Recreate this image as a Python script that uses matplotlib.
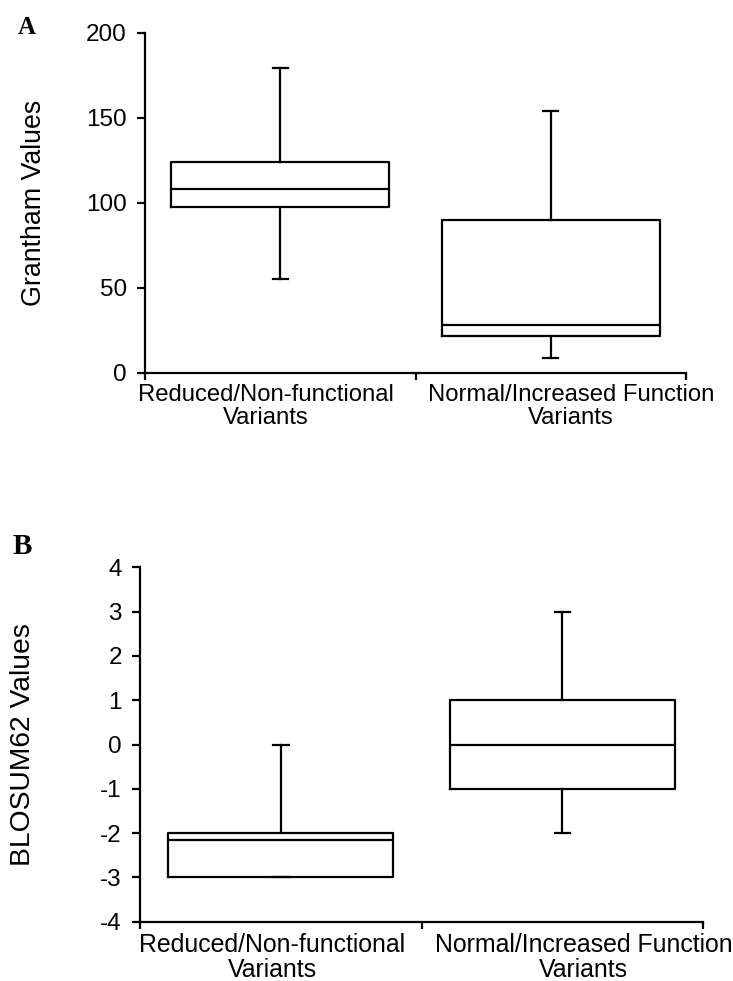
import matplotlib
matplotlib.use("Agg")
import matplotlib.pyplot as plt

plt.rcParams['font.family'] = ['Liberation Sans', 'DejaVu Sans']

groups = ["Reduced/Non-functional\nVariants", "Normal/Increased Function\nVariants"]

# box summaries: whisker low, q1, median, q3, whisker high
grantham_lo = [55.5, 9.0]
grantham_q1 = [97.5, 21.5]
grantham_med = [108.5, 28.0]
grantham_q3 = [124.0, 90.0]
grantham_hi = [179.5, 154.0]

blosum_lo = [-3.0, -2.0]
blosum_q1 = [-3.0, -1.0]
blosum_med = [-2.15, 0.0]
blosum_q3 = [-2.0, 1.0]
blosum_hi = [0.0, 3.0]

grantham_ticks = [0, 50, 100, 150, 200]
blosum_ticks = [-4, -3, -2, -1, 0, 1, 2, 3, 4]


def make_stats(lo, q1, med, q3, hi):
    stats = []
    for i in range(len(lo)):
        stats.append(dict(whislo=lo[i], q1=q1[i], med=med[i], q3=q3[i],
                          whishi=hi[i], fliers=[]))
    return stats


def draw_panel(ax, stats, ticks, ylabel, width, label_size, group_pos, group_size):
    lw = 1.6
    ax.bxp(stats, positions=[0.5, 1.5], widths=width, showfliers=False,
           patch_artist=False,
           boxprops=dict(color='black', linewidth=lw),
           medianprops=dict(color='black', linewidth=lw),
           whiskerprops=dict(color='black', linewidth=lw),
           capprops=dict(color='black', linewidth=lw),
           capwidths=0.055)
    ax.set_xlim(0, 2)
    ax.set_ylim(ticks[0], ticks[-1])
    ax.set_yticks(ticks)
    ax.set_yticklabels([str(t) for t in ticks], fontsize=17.5)
    ax.set_xticks([0, 1, 2])
    ax.set_xticklabels([])
    # group names sit on label-only minor ticks
    ax.set_xticks(group_pos, minor=True)
    ax.set_xticklabels(groups, minor=True, fontsize=group_size, linespacing=1.05)
    ax.tick_params(axis='x', which='minor', length=0, pad=8)
    ax.tick_params(axis='x', which='major', direction='out', length=5, width=lw)
    ax.tick_params(axis='y', direction='out', length=6, width=lw, pad=7)
    for side in ['top', 'right']:
        ax.spines[side].set_visible(False)
    for side in ['left', 'bottom']:
        ax.spines[side].set_linewidth(lw)
    ax.set_ylabel(ylabel, fontsize=label_size)


fig = plt.figure(figsize=(7.33, 9.81), dpi=100)

ax1 = fig.add_axes([0.1978, 0.6198, 0.7381, 0.3466])
draw_panel(ax1, make_stats(grantham_lo, grantham_q1, grantham_med, grantham_q3, grantham_hi),
           grantham_ticks, "Grantham Values", 0.805, 19.3, [0.447, 1.575], 17.2)
ax1.yaxis.set_label_coords(-0.181, 0.5)

ax2 = fig.add_axes([0.191, 0.0604, 0.7685, 0.3613])
draw_panel(ax2, make_stats(blosum_lo, blosum_q1, blosum_med, blosum_q3, blosum_hi),
           blosum_ticks, "BLOSUM62 Values", 0.80, 20.3, [0.469, 1.574], 17.9)
ax2.yaxis.set_label_coords(-0.185, 0.5)

fig.text(0.037, 0.972, "A", family='Liberation Serif', fontweight='bold',
         fontsize=18, ha='center', va='center')
fig.text(0.030, 0.443, "B", family='Liberation Serif', fontweight='bold',
         fontsize=21, ha='center', va='center')

fig.savefig("out.png", dpi=100)
